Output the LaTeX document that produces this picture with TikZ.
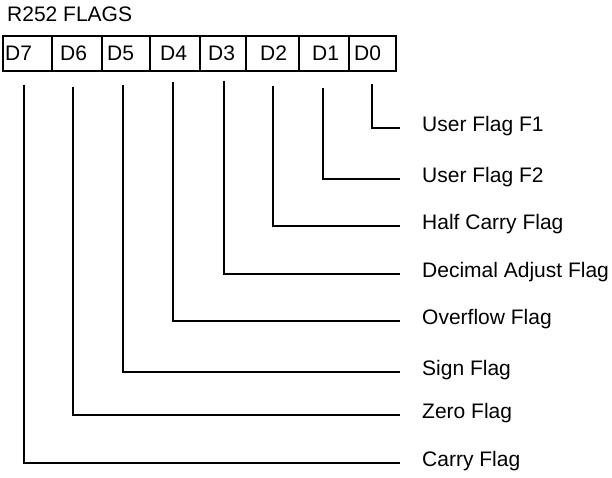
\documentclass[tikz,border=0pt]{standalone}
\usepackage{fontspec}
\setmainfont{Liberation Sans}
\begin{document}
\begin{tikzpicture}[x=1pt,y=-1pt,
  line/.style={line width=1.8pt},
  txt/.style={inner sep=0pt,anchor=base west,font=\fontsize{21}{25}\selectfont}]
\useasboundingbox (0,0) rectangle (612,478);
\node[txt] (title) at (7,22) {R252 FLAGS};
% register box
\draw[line] (3,36) rectangle (396,71);
\foreach \x in {52,102,150,200,246,299,349}{\draw[line] (\x,36) -- (\x,71);}
\node[txt] (d7) at (5,61) {D7};
\node[txt] (d6) at (60,61) {D6};
\node[txt] (d5) at (107,61) {D5};
\node[txt] (d4) at (160,61) {D4};
\node[txt] (d3) at (208,61) {D3};
\node[txt] (d2) at (260,61) {D2};
\node[txt] (d1) at (312,61) {D1};
\node[txt] (d0) at (354,61) {D0};
% flag labels and connectors
\foreach \n/\sx/\sy/\ly/\lab in {
  0/372/84/128/{User Flag F1},
  1/323/88/179/{User Flag F2},
  2/273/86/226/{Half Carry Flag},
  3/224/81/274/{Decimal Adjust Flag},
  4/173/82/321/{Overflow Flag},
  5/123/85/372/{Sign Flag},
  6/73/87/415/{Zero Flag},
  7/24/85/463/{Carry Flag}}{
  \coordinate (s\n) at (\sx,\sy);
  \coordinate (e\n) at (400,\ly);
  \node[txt] (l\n) at (422,\ly+3.5) {\lab};
  \draw[line] (s\n) |- (e\n);
}
\end{tikzpicture}
\end{document}
